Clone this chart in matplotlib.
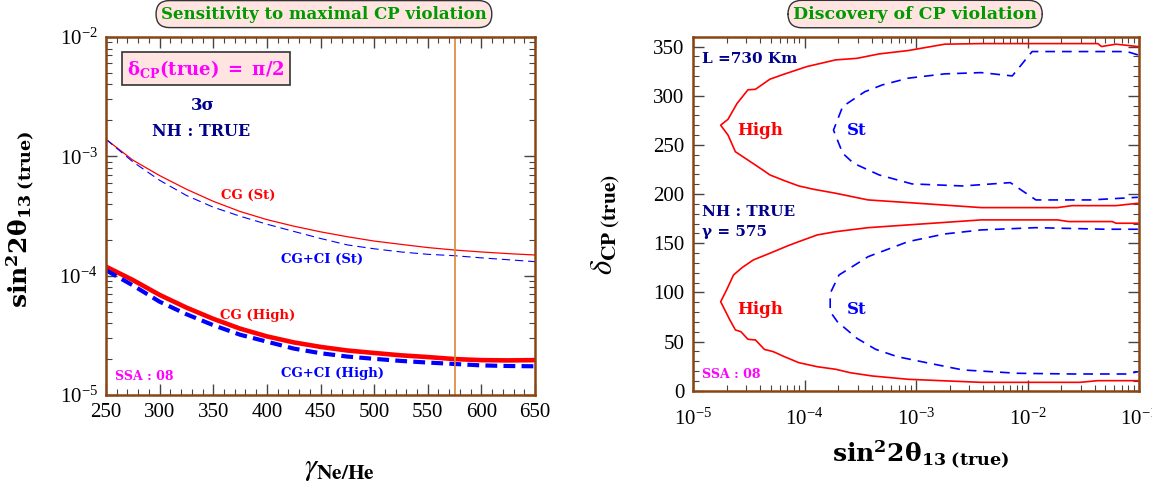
import matplotlib
matplotlib.use('Agg')
import matplotlib.pyplot as plt
from matplotlib.ticker import MultipleLocator, LogLocator, NullFormatter

plt.rcParams['font.family'] = ['Liberation Serif', 'DejaVu Serif']
plt.rcParams['mathtext.fontset'] = 'stix'
plt.rcParams['lines.scale_dashes'] = False

# ---------------- left panel data ----------------
gamma = [250, 275, 300, 325, 350, 375, 400, 425, 450, 475, 500, 525, 550, 575, 600, 625, 650]
cg_st = [1.39e-3, 9.3e-4, 6.9e-4, 5.3e-4, 4.2e-4, 3.45e-4, 2.95e-4, 2.6e-4, 2.33e-4,
         2.12e-4, 1.95e-4, 1.83e-4, 1.72e-4, 1.64e-4, 1.58e-4, 1.53e-4, 1.49e-4]
cgci_st = [1.39e-3, 9.0e-4, 6.3e-4, 4.7e-4, 3.75e-4, 3.15e-4, 2.7e-4, 2.35e-4, 2.05e-4,
           1.81e-4, 1.68e-4, 1.58e-4, 1.51e-4, 1.47e-4, 1.41e-4, 1.36e-4, 1.31e-4]
cg_high = [1.19e-4, 9.2e-5, 6.9e-5, 5.4e-5, 4.35e-5, 3.6e-5, 3.1e-5, 2.76e-5, 2.53e-5,
           2.36e-5, 2.25e-5, 2.15e-5, 2.08e-5, 2.0e-5, 1.96e-5, 1.95e-5, 1.96e-5]
cgci_high = [1.11e-4, 8.3e-5, 6.05e-5, 4.75e-5, 3.85e-5, 3.2e-5, 2.8e-5, 2.45e-5, 2.24e-5,
             2.1e-5, 2.01e-5, 1.93e-5, 1.87e-5, 1.82e-5, 1.77e-5, 1.75e-5, 1.74e-5]
gamma_chosen = 575

# ---------------- right panel data (contours) ----------------
high_up_x = [0.0977, 0.0622, 0.0461, 0.0427, 0.00385, 0.00181, 8.5e-4, 4.68e-4, 2.95e-4,
             1.9e-4, 1.05e-4, 6.6e-5, 4.9e-5, 3.63e-5, 3.11e-5, 2.48e-5, 2.06e-5, 1.77e-5,
             2.06e-5, 2.4e-5, 3.16e-5, 4.22e-5, 4.9e-5, 6.6e-5, 8.9e-5, 1.2e-4, 1.9e-4,
             3.72e-4, 8.5e-4, 0.00385, 0.0186, 0.0251, 0.0622, 0.0977]
high_up_d = [350, 352.4, 350, 353, 353, 352.4, 345.9, 342.5, 338,
             336.4, 329.6, 322, 316.8, 306.5, 306, 292, 276, 270,
             260, 243, 234, 224.5, 219.4, 213.6, 208.2, 204.9, 200.8,
             194, 191.3, 186.2, 186.2, 188.2, 188.2, 190.6]

high_lo_x = [0.0977, 0.0622, 0.0575, 0.0234, 0.0186, 0.00385, 8.5e-4, 3.72e-4, 1.9e-4,
             1.3e-4, 8.9e-5, 7.13e-5, 4.9e-5, 3.48e-5, 2.78e-5, 2.31e-5, 2.0e-5, 1.77e-5,
             2.14e-5, 2.4e-5, 2.69e-5, 3.11e-5, 3.63e-5, 4.37e-5, 5.25e-5, 6.6e-5, 8.9e-5,
             1.3e-4, 1.9e-4, 2.57e-4, 4.03e-4, 8.5e-4, 0.00385, 0.0295, 0.0427, 0.0977]
high_lo_d = [170.3, 170.3, 172, 172, 173.7, 173.7, 168.6, 165.8, 161.7,
             158.4, 151.6, 147.5, 139.8, 133, 125.5, 117.7, 102.4, 90.5,
             72, 61.8, 60, 52.3, 51.6, 42, 39.7, 34.6, 28.5,
             24.4, 21.8, 18.3, 15, 11.6, 8.5, 8.5, 10.2, 10.2]

st_up_x = [0.0977, 0.078, 0.0174, 0.0110, 0.0073, 0.00385, 0.00181, 8.5e-4, 5.0e-4,
           3.47e-4, 2.2e-4, 1.82e-4, 2.2e-4, 2.75e-4, 4.68e-4, 9.2e-4, 0.00263, 0.00701,
           0.0119, 0.0368, 0.0977]
st_up_d = [341.5, 344.9, 344.9, 344.9, 320.1, 323.5, 322.2, 317.8, 311,
           304, 289, 265, 241.5, 231.3, 219.4, 210.3, 208.2, 211.6,
           194, 194, 196.7]

st_lo_x = [0.0977, 0.0497, 0.0119, 0.00385, 0.00181, 8.5e-4, 3.72e-4, 2.04e-4, 1.7e-4,
           1.7e-4, 1.97e-4, 2.95e-4, 4.34e-4, 6.8e-4, 0.00124, 0.00263, 0.00817, 0.0251,
           0.078, 0.0977]
st_lo_d = [164.2, 164.2, 165.8, 163.5, 159.4, 151.6, 136.3, 117.7, 99,
           80.4, 70.2, 53.3, 42.1, 34.6, 28.5, 21.1, 17.7, 17,
           17, 19.3]

# ---------------- styling ----------------
SPINE = '#8b4513'
NAVY = '#00008b'
RED = '#ff0000'
BLUE = '#0000ff'
MAG = '#ff00ff'
GREEN = '#009a00'
PINK = '#ffe4e1'
BOLD = dict(family='DejaVu Serif', weight='bold')

fig = plt.figure(figsize=(11.52, 4.83), dpi=100)
ax1 = fig.add_axes([106/1152, 88/483, 429/1152, 358/483])
ax2 = fig.add_axes([693/1152, 92.3/483, 446/1152, 354/483])


def style(ax):
    for s in ax.spines.values():
        s.set_color(SPINE)
        s.set_linewidth(1.8)
    ax.tick_params(which='both', direction='in', top=True, right=True,
                   colors='#444444', labelcolor='black', labelsize=15)
    ax.tick_params(which='major', length=8, width=1.0, pad=6)
    ax.tick_params(which='minor', length=4, width=0.8)


# ---- left ----
ax1.plot(gamma, cg_st, color=RED, lw=0.9)
ax1.plot(gamma, cgci_st, color=BLUE, lw=0.8, dashes=(6, 3.5))
ax1.plot(gamma, cg_high, color=RED, lw=3.3)
ax1.plot(gamma, cgci_high, color=BLUE, lw=3.0, dashes=(8.5, 4.5))
ax1.axvline(gamma_chosen, color='#d9883a', lw=1.2)
ax1.set_yscale('log')
ax1.set_xlim(250, 650)
ax1.set_ylim(1e-5, 1e-2)
ax1.xaxis.set_major_locator(MultipleLocator(50))
ax1.xaxis.set_minor_locator(MultipleLocator(10))
ax1.yaxis.set_minor_locator(LogLocator(base=10, subs=range(2, 10)))
ax1.yaxis.set_minor_formatter(NullFormatter())
style(ax1)

ax1.set_ylabel(r'$\mathbf{sin^{2}2\theta_{13\ (true)}}$', fontsize=18,
               math_fontfamily='dejavuserif')
ax1.yaxis.set_label_coords(-0.162, 0.49)
ax1.set_xlabel(r'$\gamma_{\mathbf{Ne/He}}$', fontsize=22)
ax1.xaxis.set_label_coords(0.545, -0.165)

ax1.text(0.508, 1.064, 'Sensitivity to maximal CP violation', transform=ax1.transAxes,
         ha='center', va='center', color=GREEN, fontsize=12, **BOLD,
         bbox=dict(boxstyle='round,pad=0.3,rounding_size=0.8', fc=PINK, ec='#333333', lw=1))
ax1.text(0.233, 0.911, r'$\mathbf{\delta_{CP}(true)\ =\ \pi/2}$', transform=ax1.transAxes,
         ha='center', va='center', color=MAG, fontsize=13, math_fontfamily='dejavuserif',
         bbox=dict(boxstyle='square,pad=0.3', fc=PINK, ec='#333333', lw=1.2))
ax1.text(0.226, 0.810, '3σ', transform=ax1.transAxes, ha='center', va='center',
         color=NAVY, fontsize=12, **BOLD)
ax1.text(0.221, 0.735, 'NH : TRUE', transform=ax1.transAxes, ha='center', va='center',
         color=NAVY, fontsize=11.5, **BOLD)
ax1.text(0.331, 0.556, 'CG (St)', transform=ax1.transAxes, ha='center', va='center',
         color=RED, fontsize=9.5, **BOLD)
ax1.text(0.503, 0.378, 'CG+CI (St)', transform=ax1.transAxes, ha='center', va='center',
         color=BLUE, fontsize=9.5, **BOLD)
ax1.text(0.354, 0.223, 'CG (High)', transform=ax1.transAxes, ha='center', va='center',
         color=RED, fontsize=9.5, **BOLD)
ax1.text(0.529, 0.061, 'CG+CI (High)', transform=ax1.transAxes, ha='center', va='center',
         color=BLUE, fontsize=9.5, **BOLD)
ax1.text(0.021, 0.053, 'SSA : 08', transform=ax1.transAxes, ha='left', va='center',
         color=MAG, fontsize=9, **BOLD)

# ---- right ----
ax2.plot(high_up_x, high_up_d, color=RED, lw=1.2)
ax2.plot(high_lo_x, high_lo_d, color=RED, lw=1.2)
ax2.plot(st_up_x, st_up_d, color=BLUE, lw=1.2, dashes=(7, 5))
ax2.plot(st_lo_x, st_lo_d, color=BLUE, lw=1.2, dashes=(7, 5))
ax2.set_xscale('log')
ax2.set_xlim(1e-5, 1e-1)
ax2.set_ylim(0, 360)
ax2.yaxis.set_major_locator(MultipleLocator(50))
ax2.yaxis.set_minor_locator(MultipleLocator(10))
ax2.xaxis.set_minor_locator(LogLocator(base=10, subs=range(2, 10)))
ax2.xaxis.set_minor_formatter(NullFormatter())
style(ax2)
ax2.tick_params(axis='x', which='major', pad=13)

ax2.set_xlabel(r'$\mathbf{sin^{2}2\theta_{13\ (true)}}$', fontsize=18,
               math_fontfamily='dejavuserif')
ax2.xaxis.set_label_coords(0.51, -0.135)
ax2.set_ylabel(r'$\delta_{\mathbf{CP\ (true)}}$', fontsize=22)
ax2.yaxis.set_label_coords(-0.159, 0.47)

ax2.text(0.498, 1.064, 'Discovery of CP violation', transform=ax2.transAxes,
         ha='center', va='center', color=GREEN, fontsize=12.5, **BOLD,
         bbox=dict(boxstyle='round,pad=0.3,rounding_size=0.8', fc=PINK, ec='#333333', lw=1))
ax2.text(0.02, 0.937, 'L =730 Km', transform=ax2.transAxes, ha='left', va='center',
         color=NAVY, fontsize=11, **BOLD)
ax2.text(0.150, 0.736, 'High', transform=ax2.transAxes, ha='center', va='center',
         color=RED, fontsize=12, **BOLD)
ax2.text(0.368, 0.736, 'St', transform=ax2.transAxes, ha='center', va='center',
         color=BLUE, fontsize=12, **BOLD)
ax2.text(0.02, 0.505, 'NH : TRUE', transform=ax2.transAxes, ha='left', va='center',
         color=NAVY, fontsize=11, **BOLD)
ax2.text(0.02, 0.448, 'γ = 575', transform=ax2.transAxes, ha='left', va='center',
         color=NAVY, fontsize=11, **BOLD)
ax2.text(0.150, 0.228, 'High', transform=ax2.transAxes, ha='center', va='center',
         color=RED, fontsize=12, **BOLD)
ax2.text(0.368, 0.228, 'St', transform=ax2.transAxes, ha='center', va='center',
         color=BLUE, fontsize=12, **BOLD)
ax2.text(0.02, 0.047, 'SSA : 08', transform=ax2.transAxes, ha='left', va='center',
         color=MAG, fontsize=9, **BOLD)

fig.savefig('out.png', dpi=100)
